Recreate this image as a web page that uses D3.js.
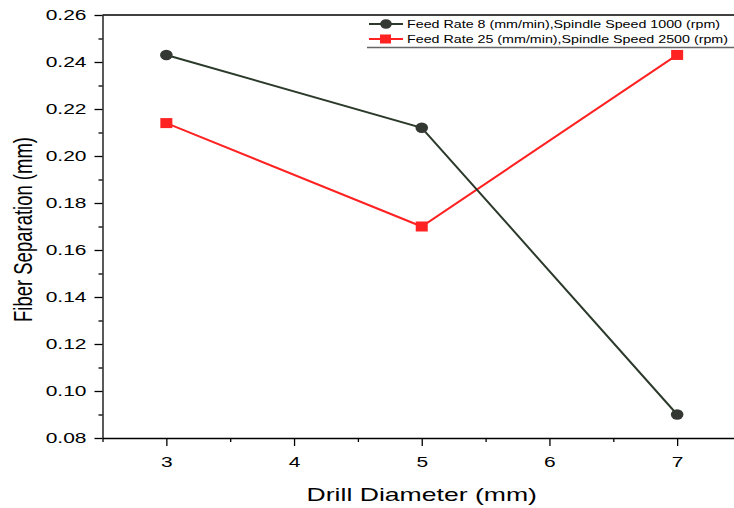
<!DOCTYPE html>
<html>
<head>
<meta charset="utf-8">
<script src="https://cdn.jsdelivr.net/npm/d3@7"></script>
<style>
  body { margin: 0; background: #fff; }
  text { font-family: "Liberation Sans", Arial, sans-serif; fill: #000; }
</style>
</head>
<body>
<div id="chart"></div>
<script>
var diameters = [3, 5, 7];
var seriesNames = ["Feed Rate 8 (mm/min),Spindle Speed 1000 (rpm)",
                   "Feed Rate 25 (mm/min),Spindle Speed 2500 (rpm)"];
var feed8Values = [0.243, 0.212, 0.090];
var feed25Values = [0.214, 0.170, 0.243];
var xTicks = [3, 4, 5, 6, 7];
var yTicks = [0.08, 0.10, 0.12, 0.14, 0.16, 0.18, 0.20, 0.22, 0.24, 0.26];

var width = 734, height = 508;
var margin = {top: 15, right: -7, bottom: 70, left: 102.5};
var w = width - margin.left - margin.right,
    h = height - margin.top - margin.bottom;
var stretch = 1.4; // the picture is wider than tall, text too

var svg = d3.select("#chart").append("svg")
    .attr("width", width)
    .attr("height", height);

var x = d3.scaleLinear().domain([2.5, 7.5]).range([0, w]);
var y = d3.scaleLinear().domain([0.08, 0.26]).range([h, 0]);

var g = svg.append("g")
    .attr("transform", "translate(" + margin.left + "," + margin.top + ")");

// minor ticks
var xMinor = d3.range(2.5, 7.51, 0.5).filter(function(d){ return d % 1 !== 0; });
var yMinor = d3.range(0.09, 0.26, 0.02);

g.append("g")
  .attr("transform", "translate(0," + h + ")")
  .call(d3.axisBottom(x).tickValues(xMinor).tickSize(4).tickFormat(""))
  .call(function(s){ s.select(".domain").remove(); });
g.append("g")
  .call(d3.axisLeft(y).tickValues(yMinor).tickSize(4).tickFormat(""))
  .call(function(s){ s.select(".domain").remove(); });

var xAxis = g.append("g")
  .attr("transform", "translate(0," + h + ")")
  .call(d3.axisBottom(x).tickValues(xTicks).tickSize(8).tickSizeOuter(0).tickPadding(10)
    .tickFormat(d3.format("d")));
xAxis.selectAll("text")
  .attr("font-size", "15px")
  .attr("transform", "scale(" + stretch + ",1)");

var yAxis = g.append("g")
  .call(d3.axisLeft(y).tickValues(yTicks).tickSize(8).tickSizeOuter(0)
    .tickFormat(d3.format(".2f")));
yAxis.selectAll("text")
  .attr("font-size", "15px")
  .attr("x", 0)
  .attr("transform", "translate(-16,0) scale(" + stretch + ",1)");

g.selectAll(".domain").attr("stroke", "#000").attr("stroke-width", 1.3);
g.selectAll(".tick line").attr("stroke", "#000").attr("stroke-width", 1.3);

// top frame line
g.append("line")
  .attr("x1", 0).attr("x2", w)
  .attr("y1", 0).attr("y2", 0)
  .attr("stroke", "#000").attr("stroke-width", 1.3);

var line = d3.line()
  .x(function(d, i){ return x(diameters[i]); })
  .y(function(d){ return y(d); });

g.append("path")
  .datum(feed25Values)
  .attr("fill", "none")
  .attr("stroke", "#ff2222")
  .attr("stroke-width", 2)
  .attr("d", line);

g.selectAll(".sq")
  .data(feed25Values)
  .enter().append("rect")
  .attr("class", "sq")
  .attr("x", function(d, i){ return x(diameters[i]) - 6; })
  .attr("y", function(d){ return y(d) - 5; })
  .attr("width", 12).attr("height", 10)
  .attr("fill", "#ff2222");

g.append("path")
  .datum(feed8Values)
  .attr("fill", "none")
  .attr("stroke", "#2b3a2b")
  .attr("stroke-width", 2)
  .attr("d", line);

g.selectAll(".dot")
  .data(feed8Values)
  .enter().append("ellipse")
  .attr("class", "dot")
  .attr("cx", function(d, i){ return x(diameters[i]); })
  .attr("cy", function(d){ return y(d); })
  .attr("rx", 6.3).attr("ry", 5.2)
  .attr("fill", "#333833");

// legend
var legend = svg.append("g").attr("transform", "translate(367,0)");
legend.append("line")
  .attr("x1", 0).attr("x2", 380)
  .attr("y1", 47.5).attr("y2", 47.5)
  .attr("stroke", "#666").attr("stroke-width", 1.5);

var rows = legend.selectAll(".row")
  .data(seriesNames)
  .enter().append("g")
  .attr("transform", function(d, i){ return "translate(0," + (24 + i * 15) + ")"; });

rows.append("line")
  .attr("x1", 2).attr("x2", 36)
  .attr("stroke", function(d, i){ return i === 0 ? "#2b3a2b" : "#ff2222"; })
  .attr("stroke-width", 2);

rows.each(function(d, i){
  var r = d3.select(this);
  if (i === 0) {
    r.append("ellipse").attr("cx", 19).attr("rx", 5.8).attr("ry", 4.8).attr("fill", "#333833");
  } else {
    r.append("rect").attr("x", 13).attr("y", -4.5).attr("width", 11).attr("height", 9)
      .attr("fill", "#ff2222");
  }
});

rows.append("text")
  .attr("dy", "0.35em")
  .attr("font-size", "10.5px")
  .attr("transform", "translate(40,0) scale(1.36,1)")
  .text(function(d){ return d; });

// axis titles
svg.append("text")
  .attr("text-anchor", "middle")
  .attr("font-size", "19px")
  .attr("transform", "translate(" + (margin.left + x(5)) + ",501) scale(" + stretch + ",1)")
  .text("Drill Diameter (mm)");

svg.append("text")
  .attr("transform", "translate(32," + (margin.top + h / 2 + 3) + ") scale(" + stretch + ",1) rotate(-90)")
  .attr("text-anchor", "middle")
  .attr("font-size", "18.5px")
  .text("Fiber Separation (mm)");
</script>
</body>
</html>
